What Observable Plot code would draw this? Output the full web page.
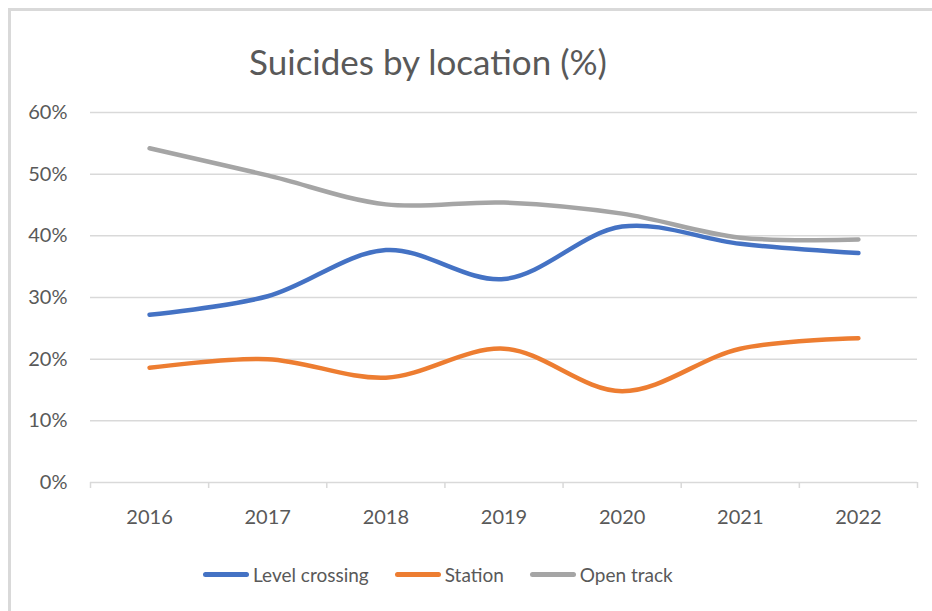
<!DOCTYPE html>
<html><head><meta charset="utf-8">
<script src="https://cdn.jsdelivr.net/npm/d3@7"></script>
<script src="https://cdn.jsdelivr.net/npm/@observablehq/plot@0.6"></script>
<style>
body{margin:0;background:#fff;width:932px;height:611px;overflow:hidden;position:relative;font-family:Lato,sans-serif;}
#frame{position:absolute;left:8px;top:8px;width:1000px;height:1000px;border-top:3px solid #d9d9d9;border-left:3px solid #d9d9d9;}
#title{position:absolute;left:0;width:856px;top:40px;text-align:center;font-size:35px;color:#595959;line-height:1.2;}
#chart{position:absolute;left:0;top:95px;}
#legend{position:absolute;left:203px;top:562px;height:24px;display:flex;align-items:center;font-size:19px;color:#595959;}
.item{display:flex;align-items:center;margin-right:26px;}
.sw{width:46px;height:5px;border-radius:3px;margin-right:4px;}
</style></head>
<body>
<div id="frame"></div>
<div id="title">Suicides by location (%)</div>
<div id="chart"></div>
<div id="legend"></div>
<script>
const years = [2016, 2017, 2018, 2019, 2020, 2021, 2022];
const levelCrossing = [27.2, 30.2, 37.7, 33.0, 41.5, 38.7, 37.2];
const station = [18.6, 20.0, 17.0, 21.7, 14.8, 21.7, 23.4];
const openTrack = [54.2, 49.8, 45.1, 45.4, 43.6, 39.7, 39.4];
const seriesNames = ["Level crossing", "Station", "Open track"];
const seriesColors = ["#4472C4", "#ED7D31", "#A5A5A5"];
const yTicks = [0, 10, 20, 30, 40, 50, 60];
const boundaryTicks = [2015.5, 2016.5, 2017.5, 2018.5, 2019.5, 2020.5, 2021.5, 2022.5];

const seriesValues = [levelCrossing, station, openTrack];
const data = [];
seriesNames.forEach((name, i) => {
  years.forEach((yr, j) => data.push({series: name, year: yr, value: seriesValues[i][j]}));
});

const chart = Plot.plot({
  width: 932,
  height: 440,
  marginLeft: 90,
  marginRight: 15,
  marginTop: 17,
  marginBottom: 53,
  style: {fontFamily: "Lato, sans-serif", fontSize: "20px", color: "#595959", background: "transparent", overflow: "visible"},
  x: {domain: [2015.5, 2022.5]},
  y: {domain: [0, 60]},
  color: {domain: seriesNames, range: seriesColors},
  marks: [
    Plot.ruleY(yTicks, {stroke: "#d9d9d9", strokeWidth: 1.5}),
    Plot.axisY({ticks: yTicks, tickSize: 0, tickPadding: 23, tickFormat: d => d + "%", label: null}),
    Plot.axisX({ticks: boundaryTicks, tickSize: 6, tickFormat: () => "", stroke: "#d9d9d9", strokeWidth: 1.5, label: null}),
    Plot.axisX({ticks: years, tickSize: 0, tickPadding: 27, tickFormat: d => String(d), label: null}),
    Plot.line(data, {x: "year", y: "value", z: "series", stroke: "series", curve: "catmull-rom", strokeWidth: 4.5, strokeLinecap: "round", strokeLinejoin: "round"})
  ]
});
document.getElementById("chart").appendChild(chart);

const legend = document.getElementById("legend");
seriesNames.forEach((name, i) => {
  const item = document.createElement("div");
  item.className = "item";
  const sw = document.createElement("div");
  sw.className = "sw";
  sw.style.background = seriesColors[i];
  const lab = document.createElement("span");
  lab.textContent = name;
  item.appendChild(sw);
  item.appendChild(lab);
  legend.appendChild(item);
});
</script>
</body></html>
